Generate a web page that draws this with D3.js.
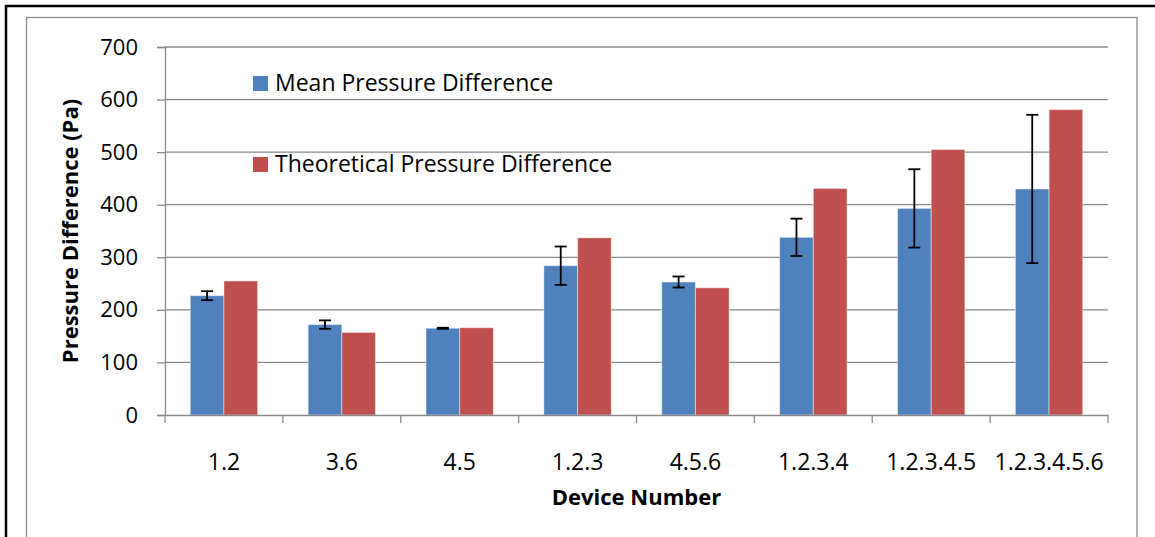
<!DOCTYPE html>
<html>
<head>
<meta charset="utf-8">
<script src="https://cdn.jsdelivr.net/npm/d3@7"></script>
<style>
  html, body { margin: 0; padding: 0; background: #fff; }
  svg { display: block; }
  text { font-family: "Open Sans", "DejaVu Sans", sans-serif; fill: #000; }
</style>
</head>
<body>
<svg id="chart" width="1155" height="537"></svg>
<script>
const categories = ["1.2", "3.6", "4.5", "1.2.3", "4.5.6", "1.2.3.4", "1.2.3.4.5", "1.2.3.4.5.6"];
const seriesNames = ["Mean Pressure Difference", "Theoretical Pressure Difference"];
const meanValues = [227, 172, 165, 284, 253, 338, 393, 430];
const meanErrors = [8.5, 8, 1, 36.5, 10.5, 35.5, 74.5, 141];
const theoreticalValues = [255, 157, 166, 337, 242, 431, 505, 581];
const yTicks = [0, 100, 200, 300, 400, 500, 600, 700];
const colors = ["#4F81BD", "#C0504D"];

const svg = d3.select("#chart");
const W = 1155, H = 537;
const plot = { left: 165, right: 1108, top: 47, bottom: 415 };

// outer frames
svg.append("rect").attr("x", 6).attr("y", 6).attr("width", W + 20).attr("height", H + 20)
  .attr("fill", "none").attr("stroke", "#000").attr("stroke-width", 2.5);
svg.append("rect").attr("x", 26.5).attr("y", 17.5).attr("width", 1110.5).attr("height", H + 20)
  .attr("fill", "none").attr("stroke", "#8c8c8c").attr("stroke-width", 1.3);

const y = d3.scaleLinear().domain([0, 700]).range([plot.bottom, plot.top]);
const x = d3.scaleBand().domain(categories).range([plot.left, plot.right]).padding(0);
const x1 = d3.scaleBand().domain(seriesNames).range([0, x.bandwidth()]).paddingInner(0).paddingOuter(0.75);

// gridlines
svg.append("g").selectAll("line").data(yTicks.filter(d => d > 0)).join("line")
  .attr("x1", plot.left).attr("x2", plot.right)
  .attr("y1", d => y(d)).attr("y2", d => y(d))
  .attr("stroke", "#8a8a8a").attr("stroke-width", 1.3);

// y axis
const yAxis = svg.append("g").attr("transform", `translate(${plot.left},0)`)
  .call(d3.axisLeft(y).tickValues(yTicks).tickSize(8).tickPadding(19).tickFormat(d3.format("d")));
yAxis.select(".domain").attr("stroke", "#8a8a8a").attr("stroke-width", 1.3);
yAxis.selectAll(".tick line").attr("stroke", "#8a8a8a").attr("stroke-width", 1.3);
yAxis.selectAll("text").attr("font-size", 22).attr("font-family", "Open Sans").attr("fill", "#000");

// bars
const data = categories.map((c, i) => ({ cat: c, vals: [meanValues[i], theoreticalValues[i]], err: meanErrors[i] }));
const groups = svg.append("g").selectAll("g").data(data).join("g")
  .attr("transform", d => `translate(${x(d.cat)},0)`);
groups.selectAll("rect").data(d => d.vals.map((v, k) => ({ name: seriesNames[k], v, k }))).join("rect")
  .attr("x", d => x1(d.name)).attr("width", x1.bandwidth())
  .attr("y", d => y(d.v)).attr("height", d => y(0) - y(d.v))
  .attr("fill", d => colors[d.k])
  .attr("stroke", "rgba(255,255,255,0.45)").attr("stroke-width", 1);

// error bars
const capW = 12;
const cx = () => x1(seriesNames[0]) + x1.bandwidth() / 2;
const eb = groups.append("g").attr("stroke", "#000").attr("stroke-width", 1.8);
eb.append("line")
  .attr("x1", cx).attr("x2", cx)
  .attr("y1", d => y(d.vals[0] + d.err)).attr("y2", d => y(d.vals[0] - d.err));
eb.append("line")
  .attr("x1", () => cx() - capW / 2).attr("x2", () => cx() + capW / 2)
  .attr("y1", d => y(d.vals[0] + d.err)).attr("y2", d => y(d.vals[0] + d.err));
eb.append("line")
  .attr("x1", () => cx() - capW / 2).attr("x2", () => cx() + capW / 2)
  .attr("y1", d => y(d.vals[0] - d.err)).attr("y2", d => y(d.vals[0] - d.err));

// x axis
const xAxis = svg.append("g").attr("transform", `translate(0,${plot.bottom})`)
  .call(d3.axisBottom(x).tickSize(0).tickPadding(39));
xAxis.select(".domain").attr("stroke", "#8a8a8a").attr("stroke-width", 1.3);
xAxis.selectAll("text").attr("font-size", 23).attr("font-family", "Open Sans").attr("fill", "#000");
// boundary ticks
const bounds = categories.map(c => x(c)).concat([x(categories[categories.length - 1]) + x.step()]);
svg.append("g").selectAll("line").data(bounds).join("line")
  .attr("x1", d => d).attr("x2", d => d)
  .attr("y1", plot.bottom).attr("y2", plot.bottom + 8)
  .attr("stroke", "#8a8a8a").attr("stroke-width", 1.3);

// axis titles
svg.append("text").attr("x", (plot.left + plot.right) / 2).attr("y", 505)
  .attr("text-anchor", "middle").attr("font-size", 22).attr("font-weight", "bold")
  .text("Device Number");
svg.append("text").attr("transform", `translate(78,${(plot.top + plot.bottom) / 2}) rotate(-90)`)
  .attr("text-anchor", "middle").attr("font-size", 22).attr("font-weight", "bold")
  .text("Pressure Difference (Pa)");

// legend
const legendY = [76, 157];
const leg = svg.append("g").selectAll("g").data(seriesNames).join("g")
  .attr("transform", (d, i) => `translate(253,${legendY[i]})`);
leg.append("rect").attr("width", 15).attr("height", 15).attr("fill", (d, i) => colors[i]);
leg.append("text").attr("x", 22).attr("y", 15).attr("font-size", 23).text(d => d);
</script>
</body>
</html>
